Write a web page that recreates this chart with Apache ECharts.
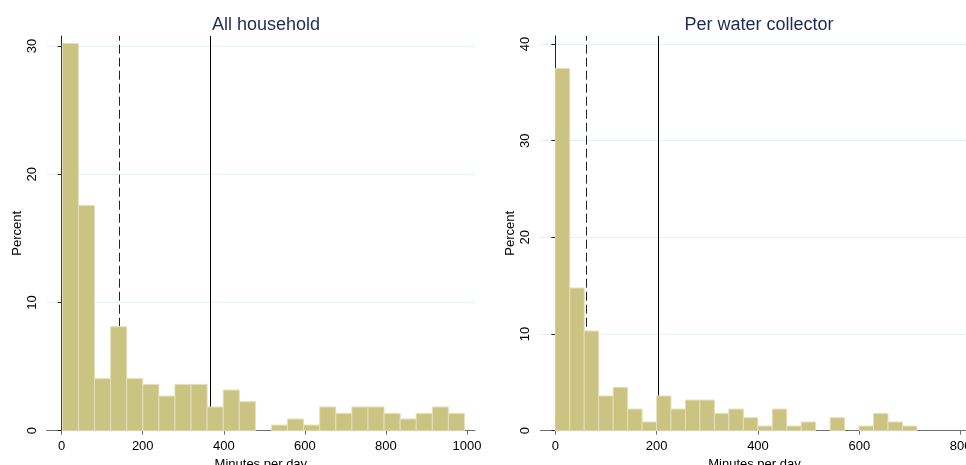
<!DOCTYPE html>
<html>
<head>
<meta charset="utf-8">
<script src="https://cdn.jsdelivr.net/npm/echarts@6/dist/echarts.min.js"></script>
<style>
  html, body { margin: 0; padding: 0; background: #fff; }
  #chart { width: 966px; height: 465px; }
</style>
</head>
<body>
<div id="chart"></div>
<script>
/* two Stata-style histograms side by side */

// All household: bins of ~39.7 min starting at 1.6
const hhStart = 1.6;
const hhWidth = 39.7;
const hhPercent = [30.2, 17.57, 4.06, 8.11, 4.06, 3.61, 2.70, 3.61, 3.61, 1.85, 3.17, 2.26, 0,
  0.44, 0.91, 0.44, 1.85, 1.35, 1.85, 1.85, 1.35, 0.91, 1.35, 1.85, 1.35];
const hhMedian = 141.6;   // dashed
const hhMean = 366.3;     // solid

// Per water collector: bins of ~28.55 min starting at 0
const pcStart = 0;
const pcWidth = 28.55;
const pcPercent = [37.48, 14.76, 10.31, 3.59, 4.48, 2.24, 0.90, 3.59, 2.24, 3.17, 3.17, 1.79, 2.24,
  1.34, 0.48, 2.24, 0.48, 0.90, 0, 1.34, 0, 0.48, 1.79, 0.90, 0.48];
const pcMedian = 61.8;
const pcMean = 204;

const hhTicksX = [0, 200, 400, 600, 800, 1000];
const pcTicksX = [0, 200, 400, 600, 800];
const hhTicksY = [0, 10, 20, 30];
const pcTicksY = [0, 10, 20, 30, 40];

const FONT = "'Liberation Sans', Arial, Helvetica, sans-serif";
const BAR_FILL = '#cbc382';
const BAR_EDGE = '#e4dfb9';

function toBins(start, width, pct) {
  return pct.map((p, i) => [start + i * width, start + (i + 1) * width, p]);
}

function renderHist(params, api) {
  const h = api.value(2);
  if (!h) return null;
  const p0 = api.coord([api.value(0), h]);
  const p1 = api.coord([api.value(1), 0]);
  return {
    type: 'rect',
    shape: { x: p0[0], y: p0[1], width: p1[0] - p0[0], height: p1[1] - p0[1] },
    style: { fill: BAR_FILL, stroke: BAR_EDGE, lineWidth: 1 },
  };
}

function xAxisOf(idx, min, max, ticks) {
  return {
    gridIndex: idx, type: 'value', min, max,
    name: 'Minutes per day', nameLocation: 'middle', nameGap: 17,
    nameTextStyle: { fontFamily: FONT, fontSize: 13, color: '#000' },
    axisLine: { onZero: false, lineStyle: { color: '#6e6e6e', width: 1 } },
    axisTick: { show: true, length: 4, customValues: ticks, lineStyle: { color: '#6e6e6e' } },
    axisLabel: {
      customValues: ticks, margin: 9, fontFamily: FONT, fontSize: 13, color: '#000',
      formatter: (v) => String(v),
    },
    splitLine: { show: false },
  };
}

function yAxisOf(idx, max, ticks) {
  return {
    gridIndex: idx, type: 'value', min: 0, max,
    name: 'Percent', nameLocation: 'middle', nameGap: 23,
    nameTextStyle: { fontFamily: FONT, fontSize: 13, color: '#000' },
    axisLine: { show: true, lineStyle: { color: '#222', width: 1 } },
    axisTick: { show: true, length: 4, customValues: ticks, lineStyle: { color: '#222' } },
    axisLabel: { customValues: ticks, rotate: 90, margin: 8, fontFamily: FONT, fontSize: 13, color: '#000' },
    splitLine: { show: true, lineStyle: { color: '#e6eff1', width: 1 } },
  };
}

function refLines(idx, median, mean) {
  return {
    type: 'line', xAxisIndex: idx, yAxisIndex: idx, data: [], z: 1,
    markLine: {
      z: 1, silent: true, symbol: 'none', animation: false,
      label: { show: false },
      data: [
        { xAxis: median, lineStyle: { type: [9, 4], color: '#222', width: 1 } },
        { xAxis: mean, lineStyle: { type: 'solid', color: '#000', width: 1 } },
      ],
    },
  };
}

const chart = echarts.init(document.getElementById('chart'), null, { renderer: 'canvas' });
chart.setOption({
  animation: false,
  backgroundColor: '#fff',
  title: [
    { text: 'All household', left: 261, top: 11, textAlign: 'center',
      textStyle: { fontFamily: FONT, fontSize: 18, fontWeight: 'normal', color: '#1c2b55' } },
    { text: 'Per water collector', left: 754, top: 11, textAlign: 'center',
      textStyle: { fontFamily: FONT, fontSize: 18, fontWeight: 'normal', color: '#1c2b55' } },
  ],
  grid: [
    { left: 46.7, right: 966 - 475, top: 36, bottom: 34.3, outerBoundsMode: 'none' },
    { left: 540.3, right: -2.6, top: 36, bottom: 34.3, outerBoundsMode: 'none' },
  ],
  xAxis: [
    xAxisOf(0, -37, 1020, hhTicksX),
    xAxisOf(1, -29.6, 815.7, pcTicksX),
  ],
  yAxis: [
    yAxisOf(0, 30.78, hhTicksY),
    yAxisOf(1, 40.83, pcTicksY),
  ],
  series: [
    refLines(0, hhMedian, hhMean),
    refLines(1, pcMedian, pcMean),
    {
      type: 'custom', xAxisIndex: 0, yAxisIndex: 0, z: 3,
      renderItem: renderHist, encode: { x: [0, 1], y: 2 },
      data: toBins(hhStart, hhWidth, hhPercent),
    },
    {
      type: 'custom', xAxisIndex: 1, yAxisIndex: 1, z: 3,
      renderItem: renderHist, encode: { x: [0, 1], y: 2 },
      data: toBins(pcStart, pcWidth, pcPercent),
    },
  ],
});
window.addEventListener('resize', () => chart.resize());
</script>
</body>
</html>
